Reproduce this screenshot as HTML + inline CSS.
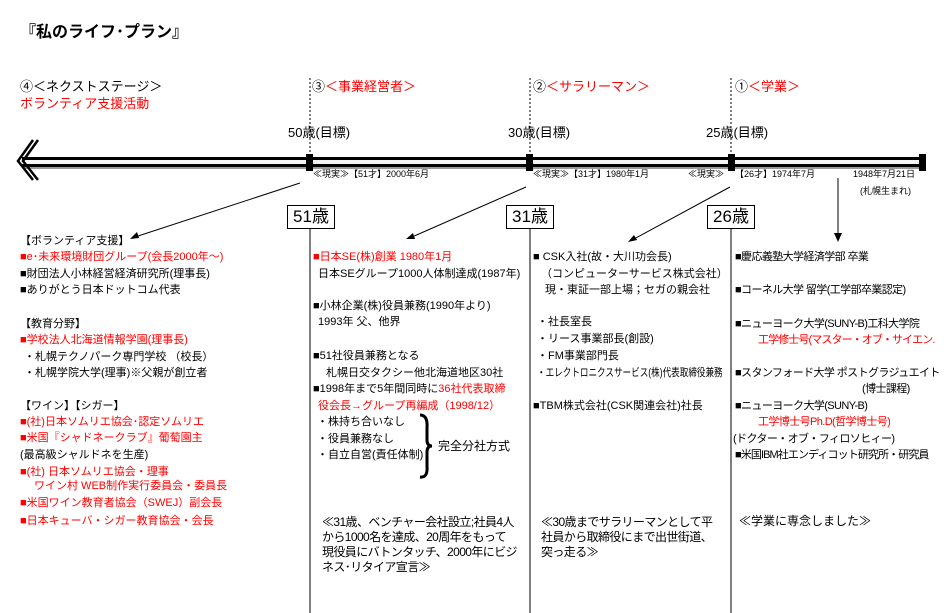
<!DOCTYPE html>
<html><head><meta charset="utf-8"><style>
body{margin:0;background:#fff}
#c{position:relative;width:950px;height:613px;overflow:hidden;font-family:"Liberation Sans","Noto Sans CJK JP",sans-serif;font-size:11px;color:#000}
.t{position:absolute;white-space:nowrap;line-height:14px}
.r{color:#f00}
.s{font-size:9px}
.m{font-size:13px}
.n{letter-spacing:-0.6px}
.p{position:absolute;font-size:12px;line-height:15px;letter-spacing:-0.6px}
.box{position:absolute;border:1px solid #000;background:#fff;font-size:17px;line-height:22px;text-align:center;height:22px}
</style></head><body><div id="c">
<svg width="950" height="613" style="position:absolute;left:0;top:0">
<g stroke="#000" stroke-width="1" stroke-dasharray="2,2">
<line x1="310" y1="78" x2="310" y2="155"/><line x1="530" y1="78" x2="530" y2="155"/><line x1="731" y1="78" x2="731" y2="155"/>
</g>
<rect x="22" y="160" width="900" height="4" fill="#f4f4f4"/>
<rect x="22" y="157" width="900" height="3" fill="#000"/>
<rect x="22" y="164" width="900" height="3" fill="#000"/>
<rect x="24" y="167" width="900" height="2" fill="#999"/>
<g stroke="#000" stroke-width="2.5" fill="none">
<polyline points="33,140 18,161 33,180"/><polyline points="38,140 23,161 38,180"/>
</g>
<g fill="#000">
<rect x="306" y="154" width="7" height="17"/><rect x="526" y="154" width="7" height="17"/><rect x="728" y="154" width="7" height="17"/><rect x="919" y="154" width="7" height="17"/>
</g>
<g stroke="#000" stroke-width="1">
<line x1="310" y1="229" x2="310" y2="613"/><line x1="530" y1="229" x2="530" y2="613"/><line x1="731" y1="229" x2="731" y2="613"/>
<line x1="300" y1="183" x2="135" y2="237"/><line x1="526" y1="187" x2="412" y2="237"/><line x1="730" y1="187" x2="634" y2="239"/><line x1="838" y1="178" x2="838" y2="236"/>
</g>
<g fill="#000">
<polygon points="130,239 137,232 139,238"/><polygon points="406,239 413,233 415,239"/><polygon points="628,242 634,235 637,240"/><polygon points="834,233 842,233 838,242"/>
</g>
<path d="M420 415 Q428 415 427 428 L427 440 Q427 446 432 446 Q427 446 427 452 L427 466 Q428 478 420 477" stroke="#000" stroke-width="3" fill="none"/>
</svg>
<div class="t" style="left:20px;top:24px;font-size:16px;font-weight:bold;line-height:18px">『私のライフ･プラン』</div>
<div class="t m" style="left:20px;top:80px">④＜ネクストステージ＞</div>
<div class="t m r" style="left:20px;top:97px">ボランティア支援活動</div>
<div class="t m" style="left:312px;top:80px">③<span class="r">＜事業経営者＞</span></div>
<div class="t m" style="left:533px;top:80px">②<span class="r">＜サラリーマン＞</span></div>
<div class="t m" style="left:735px;top:80px">①<span class="r">＜学業＞</span></div>
<div class="t m" style="left:288px;top:126px">50歳(目標)</div>
<div class="t m" style="left:508px;top:126px">30歳(目標)</div>
<div class="t m" style="left:706px;top:126px">25歳(目標)</div>
<div class="t s" style="left:313px;top:167px">≪現実≫【51才】2000年6月</div>
<div class="t s" style="left:533px;top:167px">≪現実≫【31才】1980年1月</div>
<div class="t s" style="left:688px;top:167px">≪現実≫</div>
<div class="t s" style="left:735px;top:167px">【26才】1974年7月</div>
<div class="t s" style="left:853px;top:167px">1948年7月21日</div>
<div class="t s" style="left:860px;top:184px">(札幌生まれ)</div>
<div class="box" style="left:287px;top:205px;width:46px">51歳</div>
<div class="box" style="left:506px;top:205px;width:46px">31歳</div>
<div class="box" style="left:707px;top:205px;width:46px">26歳</div>

<div class="t" style="left:20px;top:234px">【ボランティア支援】</div>
<div class="t r" style="left:20px;top:250px">■e･未来環境財団グループ(会長2000年～)</div>
<div class="t" style="left:20px;top:267px">■財団法人小林経営経済研究所(理事長)</div>
<div class="t" style="left:20px;top:283px">■ありがとう日本ドットコム代表</div>
<div class="t" style="left:20px;top:317px">【教育分野】</div>
<div class="t r" style="left:20px;top:333px">■学校法人北海道情報学園(理事長)</div>
<div class="t" style="left:24px;top:350px">・札幌テクノパーク専門学校 （校長）</div>
<div class="t" style="left:24px;top:366px">・札幌学院大学(理事)※父親が創立者</div>
<div class="t" style="left:20px;top:399px">【ワイン】【シガー】</div>
<div class="t r" style="left:20px;top:415px">■(社)日本ソムリエ協会･認定ソムリエ</div>
<div class="t r" style="left:20px;top:431px">■米国『シャドネークラブ』葡萄園主</div>
<div class="t" style="left:20px;top:448px">(最高級シャルドネを生産)</div>
<div class="t r" style="left:20px;top:465px">■(社) 日本ソムリエ協会・理事</div>
<div class="t r" style="left:34px;top:479px">ワイン村 WEB制作実行委員会・委員長</div>
<div class="t r" style="left:20px;top:496px">■米国ワイン教育者協会（SWEJ）副会長</div>
<div class="t r" style="left:20px;top:514px">■日本キューバ・シガー教育協会・会長</div>

<div class="t r" style="left:313px;top:250px">■日本SE(株)創業 1980年1月</div>
<div class="t" style="left:318px;top:267px">日本SEグループ1000人体制達成(1987年)</div>
<div class="t" style="left:313px;top:299px">■小林企業(株)役員兼務(1990年より)</div>
<div class="t" style="left:318px;top:315px">1993年 父、他界</div>
<div class="t" style="left:313px;top:349px">■51社役員兼務となる</div>
<div class="t" style="left:326px;top:366px">札幌日交タクシー他北海道地区30社</div>
<div class="t" style="left:313px;top:382px">■1998年まで5年間同時に<span class="r">36社代表取締</span></div>
<div class="t r" style="left:318px;top:399px">役会長→グループ再編成（1998/12）</div>
<div class="t" style="left:317px;top:415px">・株持ち合いなし</div>
<div class="t" style="left:317px;top:432px">・役員兼務なし</div>
<div class="t" style="left:317px;top:448px">・自立自営(責任体制)</div>
<div class="t" style="left:438px;top:439px;font-size:12px">完全分社方式</div>
<div class="p" style="left:322px;top:515px;width:195px">≪31歳、ベンチャー会社設立;社員4人から1000名を達成、20周年をもって現役員にバトンタッチ、2000年にビジネス･リタイア宣言≫</div>

<div class="t" style="left:533px;top:250px">■ CSK入社(故・大川功会長)</div>
<div class="t" style="left:541px;top:267px">（コンピューターサービス株式会社）</div>
<div class="t" style="left:545px;top:283px">現・東証一部上場；セガの親会社</div>
<div class="t" style="left:537px;top:315px">・社長室長</div>
<div class="t" style="left:537px;top:332px">・リース事業部長(創設)</div>
<div class="t" style="left:537px;top:349px">・FM事業部門長</div>
<div class="t" style="left:537px;top:366px;transform:scaleX(0.78);transform-origin:0 0">・エレクトロニクスサービス(株)代表取締役兼務</div>
<div class="t" style="left:533px;top:399px">■TBM株式会社(CSK関連会社)社長</div>
<div class="p" style="left:541px;top:515px;width:175px">≪30歳までサラリーマンとして平社員から取締役にまで出世街道、突っ走る≫</div>

<div class="t n" style="left:735px;top:250px">■慶応義塾大学経済学部 卒業</div>
<div class="t n" style="left:735px;top:283px">■コーネル大学 留学(工学部卒業認定)</div>
<div class="t n" style="left:735px;top:317px">■ニューヨーク大学(SUNY-B)工科大学院</div>
<div class="t r" style="left:758px;top:333px;letter-spacing:-0.9px">工学修士号(マスター・オブ・サイエン.</div>
<div class="t n" style="left:735px;top:366px">■スタンフォード大学 ポストグラジュエイト</div>
<div class="t n" style="left:862px;top:382px">(博士課程)</div>
<div class="t n" style="left:735px;top:399px">■ニューヨーク大学(SUNY-B)</div>
<div class="t r n" style="left:758px;top:415px">工学博士号Ph.D(哲学博士号)</div>
<div class="t n" style="left:733px;top:432px">(ドクター・オブ・フィロソヒィー)</div>
<div class="t" style="left:735px;top:448px;letter-spacing:-0.9px">■米国IBM社エンディコット研究所・研究員</div>
<div class="t" style="left:739px;top:514px;font-size:12px">≪学業に専念しました≫</div>
</div></body></html>
